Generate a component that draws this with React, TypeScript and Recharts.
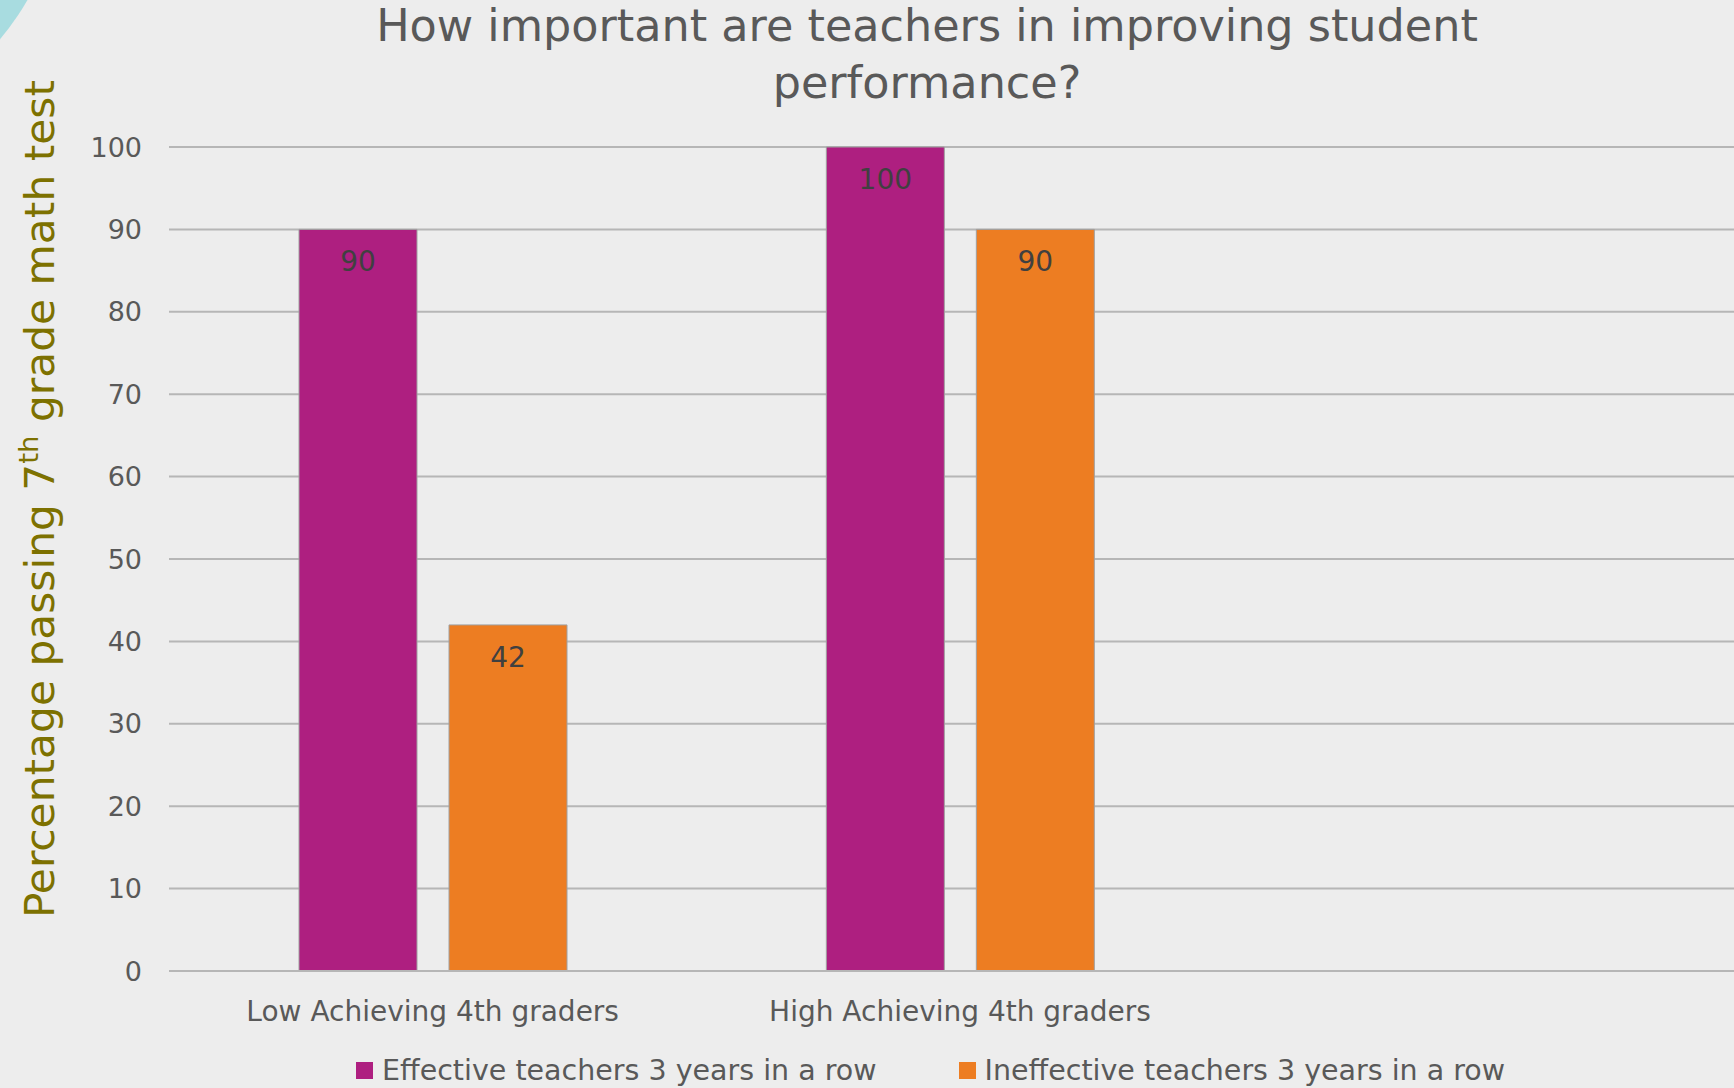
import { BarChart, Bar, XAxis, YAxis, CartesianGrid, LabelList } from 'recharts';

const categories = ['Low Achieving 4th graders', 'High Achieving 4th graders', ''];
const effective = [90, 100, null];
const ineffective = [42, 90, null];
const yTicks = [0, 10, 20, 30, 40, 50, 60, 70, 80, 90, 100];

const seriesNames = ['Effective teachers 3 years in a row', 'Ineffective teachers 3 years in a row'];
const MAGENTA = '#ae1f80';
const ORANGE = '#ed7d22';
const TEXT = '#595959';
const GRID = '#b6b6b6';
const BG = '#ededed';
const FONT = '"DejaVu Sans", Verdana, sans-serif';

const data = categories.map((name, i) => ({
  name,
  effective: effective[i],
  ineffective: ineffective[i],
}));

function YLabel() {
  return (
    <text
      x={0}
      y={0}
      transform="translate(54, 499) rotate(-90)"
      textAnchor="middle"
      fill="#7d7100"
      fontFamily='"DejaVu Sans Condensed", "Liberation Sans Narrow", "DejaVu Sans", sans-serif'
      fontSize={40}
      textLength={838}
      lengthAdjust="spacingAndGlyphs"
    >
      Percentage passing 7
      <tspan dy={-16} fontSize={26}>th</tspan>
      <tspan dy={16}> grade math test</tspan>
    </text>
  );
}

export default function App() {
  return (
    <div
      style={{
        position: 'fixed',
        left: 0,
        top: 0,
        width: 1734,
        height: 1088,
        overflow: 'hidden',
        background: BG,
        fontFamily: FONT,
      }}
    >
      <div
        style={{
          position: 'absolute',
          left: -200 - 262,
          top: -130 - 262,
          width: 524,
          height: 524,
          borderRadius: '50%',
          background: '#a8dce0',
        }}
      />
      <div
        style={{
          position: 'absolute',
          left: 340,
          width: 1174,
          top: -3,
          textAlign: 'center',
          color: TEXT,
          fontSize: 44.5,
          lineHeight: '57px',
        }}
      >
        How important are teachers in improving student performance?
      </div>
      <div style={{ position: 'absolute', left: 0, top: 0 }}>
        <BarChart
          width={1760}
          height={1088}
          data={data}
          margin={{ top: 147, right: 9, bottom: 47, left: 0 }}
          barSize={118}
          barGap={32}
        >
          <CartesianGrid vertical={false} stroke={GRID} strokeWidth={2} />
          <XAxis
            dataKey="name"
            height={70}
            tickLine={false}
            tickSize={0}
            tickMargin={30}
            axisLine={{ stroke: GRID, strokeWidth: 2 }}
            tick={{ fill: TEXT, fontSize: 28, fontFamily: FONT }}
            interval={0}
          />
          <YAxis
            width={169}
            domain={[0, 100]}
            ticks={yTicks}
            tickLine={false}
            axisLine={false}
            tickSize={0}
            tickMargin={27}
            tick={{ fill: TEXT, fontSize: 27, fontFamily: FONT }}
            label={{ content: () => <YLabel /> }}
          />
          <Bar dataKey="effective" fill={MAGENTA} stroke="#a0a0a0" strokeWidth={1} isAnimationActive={false}>
            <LabelList dataKey="effective" position="insideTop" offset={22} fill="#404040" fontSize={28} fontFamily={FONT} />
          </Bar>
          <Bar dataKey="ineffective" fill={ORANGE} stroke="#a0a0a0" strokeWidth={1} isAnimationActive={false}>
            <LabelList dataKey="ineffective" position="insideTop" offset={22} fill="#404040" fontSize={28} fontFamily={FONT} />
          </Bar>
        </BarChart>
      </div>
      <div
        style={{
          position: 'absolute',
          left: 356,
          top: 1054,
          display: 'flex',
          alignItems: 'center',
          color: TEXT,
          fontSize: 28.5,
          whiteSpace: 'nowrap',
        }}
      >
        {seriesNames.map((n, i) => (
          <div key={n} style={{ display: 'flex', alignItems: 'center', marginRight: 82 }}>
            <span
              style={{
                display: 'inline-block',
                width: 17,
                height: 17,
                background: i === 0 ? MAGENTA : ORANGE,
                marginRight: 9,
              }}
            />
            {n}
          </div>
        ))}
      </div>
    </div>
  );
}
